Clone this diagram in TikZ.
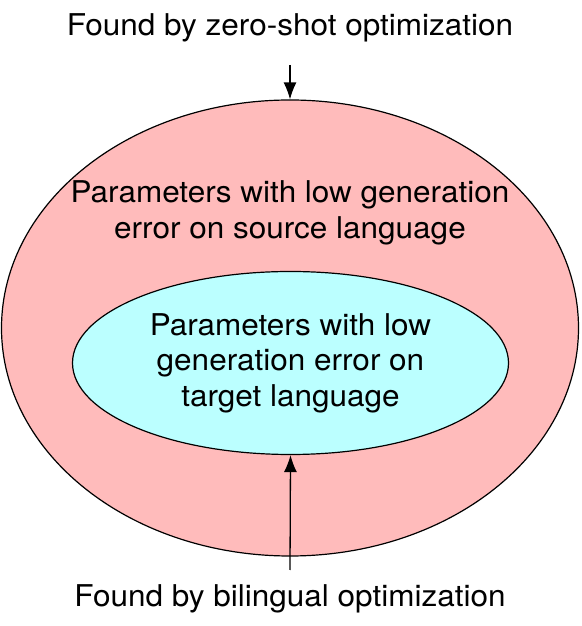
\documentclass[tikz,border=0pt]{standalone}
\usepackage{fontspec}
\setmainfont{TeX Gyre Heros}[FakeStretch=1.05]
\usetikzlibrary{positioning,arrows.meta,shapes.geometric}
\definecolor{srcpink}{HTML}{FFBBBB}
\definecolor{tgtcyan}{HTML}{BBFFFF}

\begin{document}
\begin{tikzpicture}[x=1pt,y=1pt,font=\fontsize{30}{35.5}\selectfont,
    region/.style={draw=black,line width=1.2pt,ellipse,inner sep=0pt,align=center},
    caption/.style={align=center,inner sep=0pt},
    arr/.style={-{Latex[length=17pt,width=13pt]},line width=1.3pt}]
  \useasboundingbox (0,0) rectangle (581,626);
  % outer and inner regions
  \node[region,fill=srcpink,minimum width=577,minimum height=456] (outer) at (290,298) {};
  \node[region,fill=tgtcyan,minimum width=436,minimum height=183] (inner) at (290.5,263)
    {Parameters with low\\generation error on\\target language};
  \node[caption] (outertxt) at (290,413) {Parameters with low generation\\error on source language};
  % captions
  \node[caption,anchor=base] (zeroshot) at (290,590) {Found by zero-shot optimization};
  \node[caption,anchor=base] (bilingual) at (290,19) {Found by bilingual optimization};
  \coordinate (zstart) at (290,561);
  \coordinate (bstart) at (290,56);
  \draw[arr] (zstart) -- (outer.north);
  \draw[arr] (bstart) -- (inner.south);
\end{tikzpicture}
\end{document}
